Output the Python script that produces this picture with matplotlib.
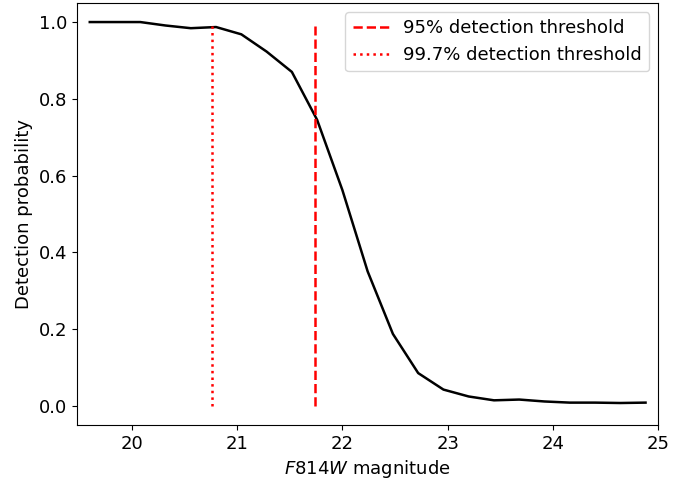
import numpy as np
import matplotlib
matplotlib.use("Agg")
import matplotlib.pyplot as plt

matplotlib.rcParams["font.size"] = 13
matplotlib.rcParams["figure.dpi"] = 100

# completeness curve
magnitude = [19.60, 19.84, 20.08, 20.32, 20.56, 20.80, 21.04, 21.28, 21.52,
             21.76, 22.00, 22.24, 22.48, 22.72, 22.96, 23.20, 23.44, 23.68,
             23.92, 24.16, 24.40, 24.64, 24.88]
probability = [1.000, 1.000, 1.000, 0.991, 0.984, 0.987, 0.968, 0.923, 0.870,
               0.745, 0.562, 0.350, 0.187, 0.085, 0.042, 0.024, 0.014, 0.016,
               0.011, 0.008, 0.008, 0.007, 0.008]

thr_95 = 21.74
thr_997 = 20.76

fig, ax = plt.subplots(figsize=(6.95, 4.79))
fig.subplots_adjust(left=0.111, right=0.947, bottom=0.113, top=0.994)

ax.plot(magnitude, probability, color="black", lw=1.8)
ax.vlines(thr_95, 0, 0.99, colors="red", linestyles="--", lw=1.8,
          label="95% detection threshold")
ax.vlines(thr_997, 0, 0.99, colors="red", linestyles=":", lw=1.8,
          label="99.7% detection threshold")

ax.set_xlim(19.48, 25.0)
ax.set_xlabel("$F814W$ magnitude")
ax.set_ylabel("Detection probability")
ax.legend(loc="upper right")

fig.savefig("out.png")
